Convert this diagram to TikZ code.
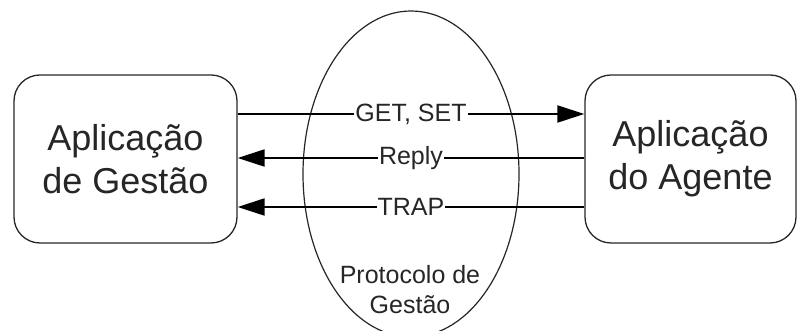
\documentclass[tikz,border=0pt]{standalone}
\usepackage{fontspec}
\setmainfont{Liberation Sans}
\usepackage{tikz}
\usetikzlibrary{shapes.geometric, arrows.meta, positioning}
\tikzstyle{app} = [rectangle, rounded corners=26pt, minimum width=222pt, minimum height=168pt, text centered, align=center, draw=black!85, line width=1.3pt, font=\fontsize{36}{43}\selectfont, text=black!85]
\tikzstyle{proto} = [ellipse, minimum width=216pt, minimum height=326pt, draw=black!85, line width=1.2pt, inner sep=0pt]
\tikzstyle{label} = [fill=white, inner sep=1pt, font=\fontsize{25}{30}\selectfont, text=black!85]
\tikzstyle{arrow} = [line width=2pt, -{Triangle[length=27pt,width=17pt]}, draw=black]

\begin{document}
\begin{tikzpicture}[x=1pt, y=1pt]
        \useasboundingbox (0,0) rectangle (797,331);
        % Nodes
        \node (ell) [proto] at (411,157) {};
        \node (mgr) [app, minimum width=223pt] at (125.5,172) {Aplicação\\de Gestão};
        \node (agt) [app, minimum width=211pt] at (690.5,172) {Aplicação\\do Agente};
        \node (txt) [align=center, font=\fontsize{25}{30}\selectfont, text=black!85, above=20pt of ell.south, xshift=-1pt] {Protocolo de\\Gestão};

        % Arrows
        \draw [arrow] ([yshift=45pt]mgr.east) -- node[label] {GET, SET} ([yshift=45pt]agt.west);
        \draw [arrow] ([yshift=1pt]agt.west) -- node[label] {Reply} ([yshift=1pt]mgr.east);
        \draw [arrow] ([yshift=-48pt]agt.west) -- node[label] {TRAP} ([yshift=-48pt]mgr.east);
    \end{tikzpicture}
\end{document}
